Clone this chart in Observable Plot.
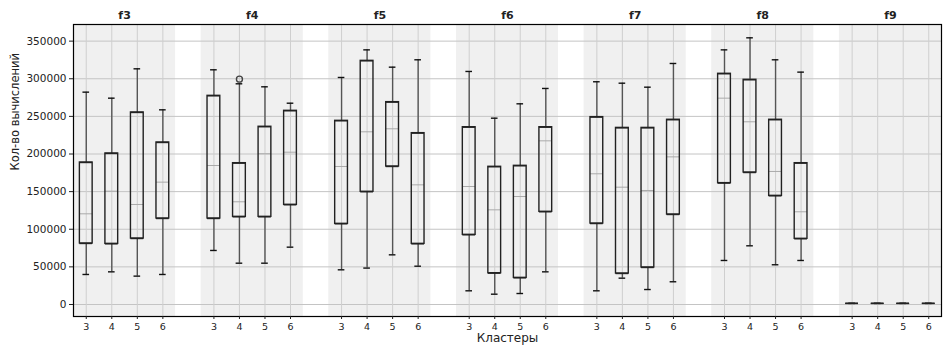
<!DOCTYPE html>
<html>
<head>
<meta charset="utf-8">
<script src="https://cdn.jsdelivr.net/npm/d3@7"></script>
<script src="https://cdn.jsdelivr.net/npm/@observablehq/plot@0.6"></script>
<style>
  html, body { margin: 0; padding: 0; background: #fff; }
  #chart svg { display: block; }
</style>
</head>
<body>
<div id="chart"></div>
<script>
// ---- data ----
const features = ["f3", "f4", "f5", "f6", "f7", "f8", "f9"];
const clusters = [3, 4, 5, 6];
const whiskerLow = [
  [39900, 43400, 37700, 39900],
  [71800, 54900, 54900, 76200],
  [46100, 48400, 66000, 50900],
  [18200, 13700, 14600, 43400],
  [18200, 35000, 19900, 30200],
  [58500, 78000, 52800, 58500],
  [1500, 1500, 1500, 1500]
];
const q1 = [
  [81100, 80600, 87700, 114300],
  [114300, 116500, 116500, 132500],
  [107200, 149800, 183400, 80600],
  [92600, 41600, 35400, 123200],
  [107600, 41200, 49200, 119600],
  [161300, 175400, 144400, 87300],
  [1500, 1500, 1500, 1500]
];
const median = [
  [120500, 150600, 132900, 162600],
  [184700, 136500, 200300, 202400],
  [183400, 229500, 233500, 159000],
  [156800, 125800, 143500, 217500],
  [173700, 155900, 151500, 196200],
  [274200, 242800, 176800, 123200],
  [1500, 1500, 1500, 1500]
];
const q3 = [
  [188700, 200700, 255200, 215300],
  [277300, 187800, 236200, 257400],
  [244100, 323800, 268900, 227700],
  [235600, 183000, 184300, 235600],
  [249000, 234700, 234700, 245500],
  [306600, 298600, 245500, 187800],
  [1500, 1500, 1500, 1500]
];
const whiskerHigh = [
  [282200, 274200, 313200, 258700],
  [311900, 293300, 289300, 267500],
  [301700, 338400, 315400, 325200],
  [309700, 247600, 266700, 287100],
  [296000, 294100, 288800, 320300],
  [338400, 354400, 325200, 308800],
  [1500, 1500, 1500, 1500]
];
const outliers = [{feature: "f4", cluster: 4, value: 299500}];
const yTicks = [0, 50000, 100000, 150000, 200000, 250000, 300000, 350000];
const yLabel = "Кол-во вычислений";
const xLabel = "Кластеры";

// ---- derived table ----
const slot = (fi, ci) => fi * 5 + ci;
const rows = [];
features.forEach((f, fi) => clusters.forEach((c, ci) => rows.push({
  feature: f, cluster: c, pos: slot(fi, ci),
  lo: whiskerLow[fi][ci], q1: q1[fi][ci], med: median[fi][ci],
  q3: q3[fi][ci], hi: whiskerHigh[fi][ci]
})));
const groups = features.map((f, fi) => ({feature: f, start: slot(fi, 0), end: slot(fi, 3), center: slot(fi, 1.5)}));
const outRows = outliers.map(o => ({...o, pos: slot(features.indexOf(o.feature), clusters.indexOf(o.cluster))}));
const posLabel = new Map(rows.map(r => [r.pos, String(r.cluster)]));
const groupLabel = new Map(groups.map(g => [g.center, g.feature]));

const yDomain = [-15950, 372100];
const boxHalf = 0.25, capHalf = 0.13;
const bx1 = d => d.pos - boxHalf, bx2 = d => d.pos + boxHalf;

const chart = Plot.plot({
  width: 945,
  height: 353,
  marginLeft: 73,
  marginRight: 4,
  marginTop: 24,
  marginBottom: 37,
  style: {fontFamily: "DejaVu Sans, sans-serif", fontSize: "10px", background: "#fff", color: "#222"},
  x: {domain: [-0.5, 33.5]},
  y: {domain: yDomain},
  marks: [
    Plot.rect(groups, {x1: d => d.start - 0.5, x2: d => d.end + 0.5, y1: yDomain[0], y2: yDomain[1], fill: "#f0f0f0"}),
    Plot.gridY(yTicks, {stroke: "#c4c4c4", strokeOpacity: 1, strokeWidth: 1}),
    Plot.gridX(rows.map(r => r.pos), {stroke: "#cfcfcf", strokeOpacity: 1, strokeWidth: 1}),
    // whiskers
    Plot.ruleX(rows, {x: "pos", y1: "lo", y2: "q1", stroke: "#555", strokeWidth: 1.4}),
    Plot.ruleX(rows, {x: "pos", y1: "q3", y2: "hi", stroke: "#555", strokeWidth: 1.4}),
    // caps
    Plot.ruleY(rows, {y: "lo", x1: d => d.pos - capHalf, x2: d => d.pos + capHalf, stroke: "#111", strokeWidth: 1.4}),
    Plot.ruleY(rows, {y: "hi", x1: d => d.pos - capHalf, x2: d => d.pos + capHalf, stroke: "#111", strokeWidth: 1.4}),
    // medians
    Plot.ruleY(rows, {y: "med", x1: bx1, x2: bx2, stroke: "#aaa", strokeWidth: 1}),
    // boxes (sides + top/bottom edges, so zero-height boxes still show)
    Plot.rect(rows, {x1: bx1, x2: bx2, y1: "q1", y2: "q3", fill: "none", stroke: "#222", strokeWidth: 1.4}),
    Plot.ruleY(rows, {y: "q1", x1: bx1, x2: bx2, stroke: "#222", strokeWidth: 1.4}),
    Plot.ruleY(rows, {y: "q3", x1: bx1, x2: bx2, stroke: "#222", strokeWidth: 1.4}),
    // outliers
    Plot.dot(outRows, {x: "pos", y: "value", r: 3, stroke: "#444", strokeWidth: 1.4, fill: "none"}),
    Plot.frame({stroke: "#000", strokeWidth: 1.2}),
    Plot.axisY(yTicks, {tickFormat: d3.format("d"), tickSize: 4, tickPadding: 3, fontSize: 10.5, label: null}),
    Plot.axisX(rows.map(r => r.pos), {anchor: "bottom", tickFormat: d => posLabel.get(d), tickSize: 3, tickPadding: 4,
      fontSize: 9.5, label: null}),
    Plot.axisX(groups.map(g => g.center), {anchor: "top", tickFormat: d => groupLabel.get(d), tickSize: 0, tickPadding: 6,
      fontSize: 11, fontWeight: "bold", label: null}),
    Plot.text([yLabel], {text: d => d, frameAnchor: "left", rotate: -90, dx: -58, fontSize: 11.5, fill: "#222"}),
    Plot.text([xLabel], {text: d => d, frameAnchor: "bottom", dy: 25, fontSize: 12, fill: "#222"})
  ]
});
document.getElementById("chart").appendChild(chart);
</script>
</body>
</html>
